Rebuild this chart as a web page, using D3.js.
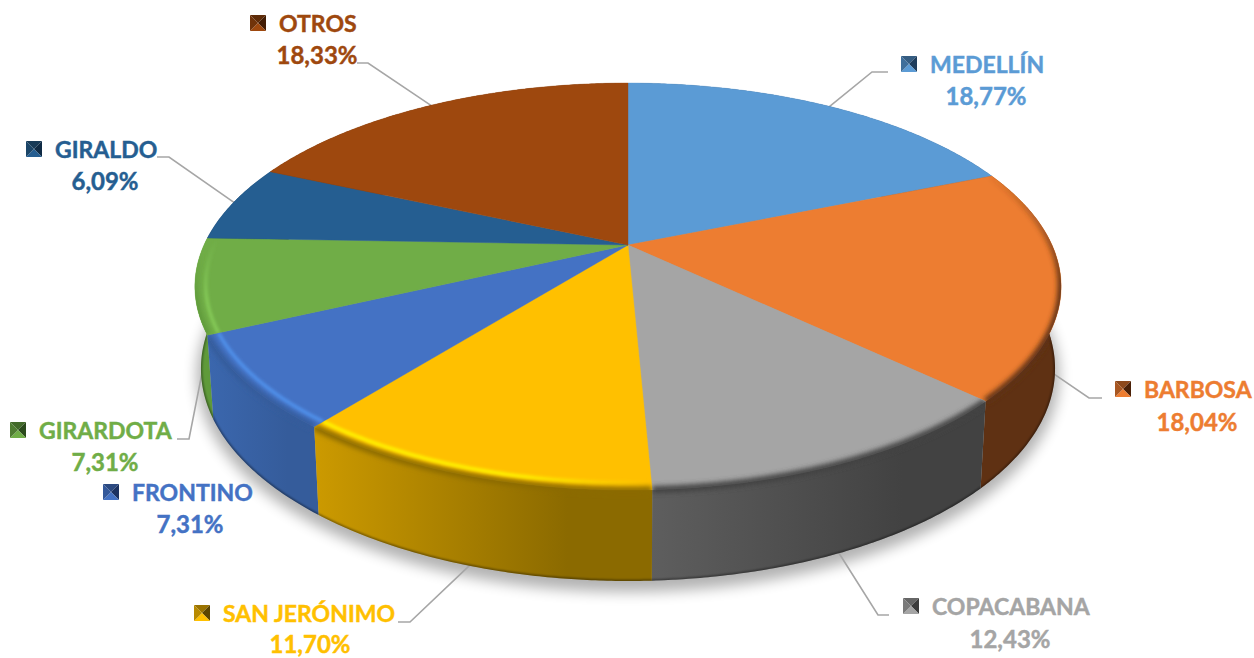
<!DOCTYPE html>
<html>
<head>
<meta charset="utf-8">
<title>Pie</title>
<script src="https://cdn.jsdelivr.net/npm/d3@7/dist/d3.min.js"></script>
<style>
body { margin: 0; background: #fff; }
text { font-family: Lato, "Open Sans", sans-serif; font-weight: 700; stroke-width: 0.45; }
</style>
</head>
<body>
<svg id="chart"></svg>
<script>
var categories = ["MEDELLÍN", "BARBOSA", "COPACABANA", "SAN JERÓNIMO", "FRONTINO", "GIRARDOTA", "GIRALDO", "OTROS"];
var shares = [18.77, 18.04, 12.43, 11.70, 7.31, 7.31, 6.09, 18.33];

// styles, same order as categories
var topColors = ["#5b9bd5", "#ed7d31", "#a5a5a5", "#ffc000", "#4472c4", "#70ad47", "#255e91", "#9e480e"];
var wallColors = [["#355d80", "#355d80"], ["#5f3113", "#5f3113"], ["#5e5e5e", "#424242"], ["#cc9a00", "#8b6a00"],
    ["#3b67ae", "#355c9b"], ["#69a540", "#5f9a3a"], ["#163a5a", "#163a5a"], ["#5f2b08", "#5f2b08"]];
var markerDark = ["#1f3d5c", "#4a2108", "#3c3c3c", "#5c4500", "#1c3261", "#2b4a1c", "#0f2a44", "#421c04"];
var markerMid = ["#3f6f9b", "#a85722", "#7a7a7a", "#b88a00", "#34589a", "#4f7d32", "#1b4568", "#70330a"];

// label layout: name start x, name baseline, percent centre x, percent baseline, leader elbow and end
var labelLayout = [
    { x: 930, y: 73, px: 986, py: 105, leader: [[888, 72], [872, 72]], ring: 0 },
    { x: 1144, y: 398, px: 1197, py: 431, leader: [[1102, 398], [1089, 398]], ring: 1, nudge: 10 },
    { x: 932, y: 615, px: 1010, py: 648, leader: [[889, 615], [878, 615]], ring: 1 },
    { x: 223, y: 622, px: 310, py: 653, leader: [[398, 622], [410, 622]], ring: 1 },
    { x: 132, y: 501, px: 190, py: 533, leader: null },
    { x: 39, y: 439, px: 105, py: 471, leader: [[177, 439], [189, 439]], ring: 1 },
    { x: 55, y: 158, px: 105, py: 190, leader: [[157, 157], [169, 157]], ring: 0 },
    { x: 279, y: 32, px: 317, py: 64, leader: [[357, 63], [368, 63]], ring: 0 }
];

var width = 1254, height = 658;

// perspective of the disc: circle is mapped to the screen around the apex
var cx = 628, cy = 245, radiusX = 424, radiusY = 195, tilt = -0.204, frontPull = 0.035;

function project(angle, r, ring) {
    // the front corners sit a little closer to the viewer than a plain projection gives
    var a = angle + frontPull * Math.sin(angle) * Math.max(0, -Math.cos(angle));
    var x = Math.sin(a) * r,
        y = -Math.cos(a) * r,
        w = 1 + tilt * y,
        sx = radiusX * x / w,
        sy = radiusY * y / w;
    if (!ring) return [cx + sx, cy + sy];
    // lower edge of the wall, a bit narrower than the top
    var py = cy + sy;
    return [cx + sx * 0.986, py + 91 - (490 - py) * 0.044];
}

function arcPoints(a0, a1, r, ring) {
    var n = Math.max(2, Math.ceil((a1 - a0) / 0.008));
    return d3.range(n + 1).map(function (i) {
        return project(a0 + (a1 - a0) * i / n, r, ring);
    });
}

var line = d3.line();
var arcs = d3.pie().sort(null).startAngle(0).endAngle(2 * Math.PI)(shares);

var svg = d3.select("#chart")
    .attr("width", width)
    .attr("height", height)
    .style("display", "block");

var defs = svg.append("defs");

function addBlur(id, dev) {
    defs.append("filter").attr("id", id)
        .attr("filterUnits", "userSpaceOnUse")
        .attr("x", 0).attr("y", 0).attr("width", width).attr("height", height)
        .append("feGaussianBlur").attr("stdDeviation", dev);
}
addBlur("blurShadow", 7);
addBlur("blurEdge", 2.6);
addBlur("blurGlow", 1.4);
addBlur("blurBottom", 0.8);

function gradient(id, x1, y1, x2, y2, stops) {
    var g = defs.append("linearGradient").attr("id", id)
        .attr("gradientUnits", "userSpaceOnUse")
        .attr("x1", x1).attr("y1", y1).attr("x2", x2).attr("y2", y2);
    stops.forEach(function (s) {
        g.append("stop").attr("offset", s[0]).attr("stop-color", s[1]).attr("stop-opacity", s[2]);
    });
    return "url(#" + id + ")";
}

function facePath(d) {
    return line([[cx, cy]].concat(arcPoints(d.startAngle, d.endAngle, 1, false))) + "Z";
}

function wallPath(d) {
    var upper = arcPoints(d.startAngle, d.endAngle, 1, false),
        lower = arcPoints(d.startAngle, d.endAngle, 1, true).reverse();
    return line(upper.concat(lower)) + "Z";
}

// drop shadow, only from the foot of the disc
var full = { startAngle: 0, endAngle: 2 * Math.PI };
svg.append("path")
    .attr("d", line(arcPoints(0, 2 * Math.PI, 1, true)) + "Z")
    .attr("transform", "translate(0,7)")
    .attr("filter", "url(#blurShadow)")
    .attr("fill", "#000")
    .attr("stroke", "#000")
    .attr("stroke-width", 8)
    .attr("opacity", 0.3);

// leader lines, they run under the disc so the rim cuts them
svg.append("g").selectAll("path")
    .data(labelLayout.map(function (l, i) { return { l: l, d: arcs[i] }; }).filter(function (o) { return o.l.leader; }))
    .join("path")
    .attr("fill", "none")
    .attr("stroke", "#a6a6a6")
    .attr("stroke-width", 1.6)
    .attr("d", function (o) {
        var p = project((o.d.startAngle + o.d.endAngle) / 2, 0.995, o.l.ring);
        return line(o.l.leader.concat([[p[0], p[1] + (o.l.nudge || 0)]]));
    });

// walls, back ones first
var order = arcs.slice().sort(function (a, b) {
    return project((a.startAngle + a.endAngle) / 2, 1)[1] - project((b.startAngle + b.endAngle) / 2, 1)[1];
});

svg.append("g").selectAll("path")
    .data(order)
    .join("path")
    .attr("d", wallPath)
    .attr("fill", function (d) {
        var pts = arcPoints(d.startAngle, d.endAngle, 1, false),
            ext = d3.extent(pts, function (p) { return p[0]; });
        return gradient("wall" + d.index, ext[0], 0, ext[1], 0,
            [[0, wallColors[d.index][0], 1], [0.75, wallColors[d.index][1], 1], [1, wallColors[d.index][1], 1]]);
    });

// dark line at the foot of the wall
var wallClip = defs.append("clipPath").attr("id", "wallClip");
wallClip.append("path").attr("d", wallPath(full));
svg.append("g").attr("clip-path", "url(#wallClip)")
    .selectAll("path")
    .data(order)
    .join("path")
    .attr("d", function (d) { return line(arcPoints(d.startAngle, d.endAngle, 1, true)); })
    .attr("fill", "none")
    .attr("stroke", "#000")
    .attr("stroke-opacity", 0.45)
    .attr("stroke-width", 2.5)
    .attr("filter", "url(#blurBottom)");

// top faces
svg.append("g").selectAll("path")
    .data(arcs)
    .join("path")
    .attr("d", facePath)
    .attr("fill", function (d) { return topColors[d.index]; })
    .attr("stroke", function (d) { return topColors[d.index]; })
    .attr("stroke-width", 0.4);

// soft bevel on the rim: each slice keeps its own clip
var bevel = svg.append("g");
arcs.forEach(function (d) {
    var clip = defs.append("clipPath").attr("id", "sliceClip" + d.index);
    clip.append("path").attr("d", facePath(d));
    clip.append("path").attr("d", wallPath(d));
});

// which rim parts get a dark edge [slice, x1, y1, x2, y2]
var edgeFades = [[1, 0, 170, 0, 290], [2, 0, 0, 0, 1], [3, 0, 0, 0, 1], [4, 0, 0, 0, 1], [5, 0, 250, 0, 300]];
edgeFades.forEach(function (e) {
    var d = arcs[e[0]];
    var stroke = gradient("edge" + e[0], e[1], e[2], e[3], e[4],
        [[0, wallColors[e[0]][1], 0], [1, wallColors[e[0]][1], 1]]);
    bevel.append("g").attr("clip-path", "url(#sliceClip" + e[0] + ")")
        .append("path")
        .attr("d", line(arcPoints(d.startAngle, d.endAngle, 1, false)))
        .attr("fill", "none")
        .attr("stroke", stroke)
        .attr("stroke-width", 7)
        .attr("filter", "url(#blurEdge)");
});

// bright band just inside the rim [slice, colour, x1, y1, x2, y2]
var glows = [[3, "#fff200", 310, 0, 650, 0, 0.6], [4, "#5090ea", 200, 0, 320, 0, 1], [5, "#84c957", 0, 240, 0, 300, 0]];
glows.forEach(function (g) {
    var d = arcs[g[0]];
    var stops = g[0] === 3
        ? [[0, g[1], 1], [g[6], g[1], 1], [1, g[1], 0]]
        : g[0] === 5 ? [[0, g[1], 0], [1, g[1], 1]] : [[0, g[1], 1], [1, g[1], 1]];
    bevel.append("g").attr("clip-path", "url(#sliceClip" + g[0] + ")")
        .append("path")
        .attr("d", line(arcPoints(d.startAngle, d.endAngle, 0.976, false)))
        .attr("fill", "none")
        .attr("stroke", gradient("glow" + g[0], g[2], g[3], g[4], g[5], stops))
        .attr("stroke-width", 3.6)
        .attr("filter", "url(#blurGlow)");
});

// labels
var fontSize = 23, pctSize = 24;
var labels = svg.append("g").selectAll("g")
    .data(categories)
    .join("g");

labels.append("text")
    .attr("x", function (d, i) { return labelLayout[i].x; })
    .attr("y", function (d, i) { return labelLayout[i].y; })
    .attr("font-size", fontSize)
    .attr("fill", function (d, i) { return topColors[i]; })
    .attr("stroke", function (d, i) { return topColors[i]; })
    .text(function (d) { return d; });

labels.append("text")
    .attr("x", function (d, i) { return labelLayout[i].px; })
    .attr("y", function (d, i) { return labelLayout[i].py; })
    .attr("font-size", pctSize)
    .attr("text-anchor", "middle")
    .attr("fill", function (d, i) { return topColors[i]; })
    .attr("stroke", function (d, i) { return topColors[i]; })
    .text(function (d, i) { return shares[i].toFixed(2).replace(".", ",") + "%"; });

// bevelled legend keys, four triangles in a 16px square
var keySize = 16;
labels.each(function (d, i) {
    var g = d3.select(this).append("g")
        .attr("transform", "translate(" + (labelLayout[i].x - 29) + "," + (labelLayout[i].y - 17) + ")");
    var s = keySize, m = s / 2;
    var faces = [
        [[[0, 0], [s, 0], [m, m]], d3.color(markerMid[i]).darker(0.5).formatHex()],
        [[[s, 0], [s, s], [m, m]], markerDark[i]],
        [[[0, s], [s, s], [m, m]], topColors[i]],
        [[[0, 0], [0, s], [m, m]], markerMid[i]]
    ];
    g.selectAll("path").data(faces).join("path")
        .attr("d", function (f) { return line(f[0]) + "Z"; })
        .attr("fill", function (f) { return f[1]; });
});
</script>
</body>
</html>
